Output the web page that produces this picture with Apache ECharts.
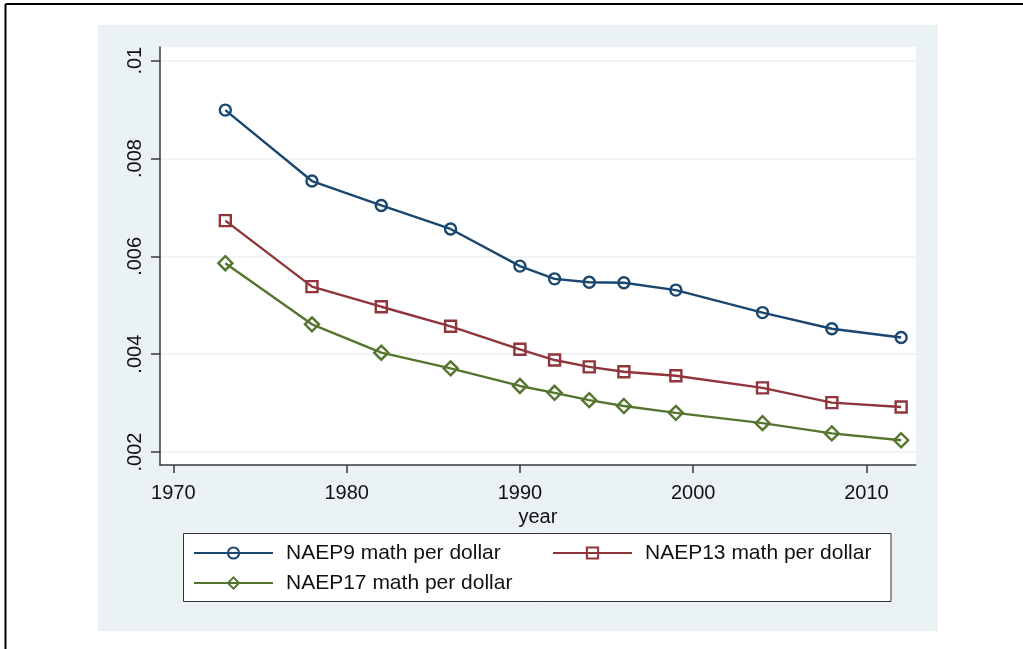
<!DOCTYPE html>
<html>
<head>
<meta charset="utf-8">
<script src="https://cdn.jsdelivr.net/npm/echarts@6/dist/echarts.min.js"></script>
<style>
  html, body { margin: 0; padding: 0; background: #fff; }
  #chart { width: 1023px; height: 649px; }
</style>
</head>
<body>
<div id="chart"></div>
<script>
// data
var years = [1973, 1978, 1982, 1986, 1990, 1992, 1994, 1996, 1999, 2004, 2008, 2012];
var naep9 = [0.00899, 0.00754, 0.00704, 0.00656, 0.00580, 0.00554, 0.00547, 0.00546, 0.00531, 0.00485, 0.00452, 0.00434];
var naep13 = [0.00673, 0.00538, 0.00497, 0.00457, 0.00410, 0.00388, 0.00374, 0.00364, 0.00356, 0.00331, 0.00301, 0.00292];
var naep17 = [0.00586, 0.00461, 0.00403, 0.00371, 0.00335, 0.00321, 0.00306, 0.00294, 0.00280, 0.00259, 0.00238, 0.00224];
var xTicks = [1970, 1980, 1990, 2000, 2010];
var yTicks = [0.002, 0.004, 0.006, 0.008, 0.01];

var FONT = 'Liberation Sans, Arial, Helvetica, sans-serif';
var NAVY = '#1a476f', MAROON = '#90353b', GREEN = '#55752f';
var AXIS = '#3a3a3a', PALE = '#eaf2f3';

function pairs(vals) {
  return years.map(function (y, i) { return [y, vals[i]]; });
}

function lineSeries(name, vals, color, symbol, size) {
  return {
    name: name,
    type: 'line',
    data: pairs(vals),
    symbol: symbol,
    symbolSize: size,
    showAllSymbol: true,
    lineStyle: { color: color, width: 2.4 },
    itemStyle: { color: 'rgba(0,0,0,0)', borderColor: color, borderWidth: 2.4 },
    emphasis: { disabled: true },
    animation: false
  };
}

function legendAt(name, left, top) {
  return {
    data: [name],
    left: left,
    top: top,
    padding: 0,
    itemWidth: 79,
    itemHeight: 14,
    selectedMode: false,
    textStyle: { fontFamily: FONT, fontSize: 21, color: '#111', lineHeight: 24, padding: [0, 0, 0, 8] }
  };
}

var chart = echarts.init(document.getElementById('chart'));
chart.setOption({
  backgroundColor: '#fff',
  animation: false,
  graphic: [
    { type: 'rect', z: -10, shape: { x: 98, y: 25, width: 840, height: 606 }, style: { fill: PALE } },
    { type: 'line', shape: { x1: 5.5, y1: 4, x2: 1023, y2: 4 }, style: { stroke: '#000', lineWidth: 2 } },
    { type: 'line', shape: { x1: 5.5, y1: 4, x2: 5.5, y2: 649 }, style: { stroke: '#000', lineWidth: 2 } },
    { type: 'rect', z: 1, shape: { x: 183.5, y: 533.5, width: 707.5, height: 68 }, style: { fill: '#fff', stroke: '#333', lineWidth: 1 } }
  ],
  grid: {
    left: 160, right: 107.3, top: 47, bottom: 184,
    show: true, backgroundColor: '#fff', borderWidth: 0
  },
  xAxis: {
    type: 'value',
    min: 1969.23,
    max: 2012.84,
    name: 'year',
    nameLocation: 'middle',
    nameGap: 37,
    nameTextStyle: { fontFamily: FONT, fontSize: 20, color: '#111' },
    axisLine: { show: true, lineStyle: { color: AXIS, width: 1.5 } },
    axisTick: { show: true, length: 8, customValues: xTicks, lineStyle: { color: AXIS, width: 1.5 } },
    axisLabel: {
      customValues: xTicks, margin: 18, fontFamily: FONT, fontSize: 20, color: '#111',
      formatter: function (v) { return String(Math.round(v)); }
    },
    splitLine: { show: false }
  },
  yAxis: {
    type: 'value',
    min: 0.001734,
    max: 0.01028,
    axisLine: { show: true, lineStyle: { color: AXIS, width: 1.5 } },
    axisTick: { show: true, length: 9, customValues: yTicks, lineStyle: { color: AXIS, width: 1.5 } },
    axisLabel: {
      customValues: yTicks, rotate: 90, margin: 15,
      fontFamily: FONT, fontSize: 20, color: '#111',
      formatter: function (v) { return String(+v.toFixed(4)).replace(/^0\./, '.'); }
    },
    splitLine: { show: true, lineStyle: { color: PALE, width: 1.5 } }
  },
  legend: [
    legendAt('NAEP9 math per dollar', 193, 541),
    legendAt('NAEP13 math per dollar', 552, 541),
    legendAt('NAEP17 math per dollar', 193, 571)
  ],
  series: [
    lineSeries('NAEP9 math per dollar', naep9, NAVY, 'circle', 11),
    lineSeries('NAEP13 math per dollar', naep13, MAROON, 'rect', 11),
    lineSeries('NAEP17 math per dollar', naep17, GREEN, 'diamond', [14, 14])
  ]
});
</script>
</body>
</html>
